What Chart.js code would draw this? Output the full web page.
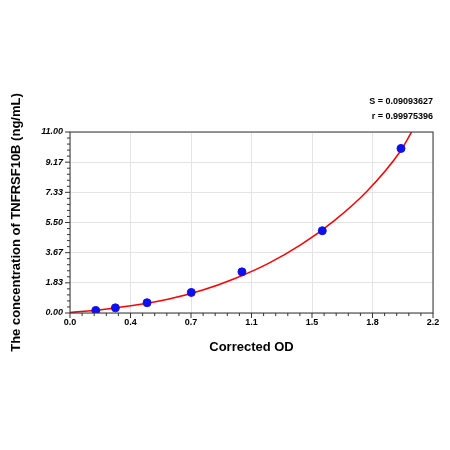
<!DOCTYPE html>
<html>
<head>
<script src="https://cdn.jsdelivr.net/npm/chart.js@4"></script>
<style>body{margin:0;background:#fff}#wrap{width:450px;height:450px}</style>
</head>
<body>
<div id="wrap"><canvas id="c" width="450" height="450"></canvas></div>
<script>
"use strict";
var xTicks = [0.0, 0.4, 0.7, 1.1, 1.5, 1.8, 2.2];
var yTicks = ["0.00", "1.83", "3.67", "5.50", "7.33", "9.17", "11.00"];
var odValues = [0.156, 0.275, 0.467, 0.735, 1.042, 1.529, 2.006];
var concValues = [0.156, 0.312, 0.625, 1.25, 2.5, 5, 10];
var curveX = [0, 0.2, 0.4, 0.6, 0.8, 1.0, 1.2, 1.4, 1.6, 1.8, 2.0, 2.07];
var curveY = [0.03, 0.22, 0.48, 0.85, 1.38, 2.1, 3.0, 4.15, 5.6, 7.4, 9.8, 11];
var XMAX = 2.2, YMAX = 11;

function pts(xs, ys){
    var out = [];
    for (var i = 0; i < xs.length; i++) out.push({x: xs[i], y: ys[i]});
    return out;
}

var extras = {
    id: 'extras',
    afterDraw: function(chart){
        var ctx = chart.ctx, a = chart.chartArea;
        var xs = chart.scales.x, ys = chart.scales.y;
        ctx.save();
        ctx.strokeStyle = '#333';
        ctx.lineWidth = 1;
        ctx.strokeRect(a.left, a.top, a.right - a.left, a.bottom - a.top);
        // minor ticks
        ctx.beginPath();
        for (var i = 0; i <= 30; i++) {
            var px = xs.getPixelForValue(XMAX * i / 30);
            var len = (i % 5 === 0) ? 5 : 3;
            ctx.moveTo(px, a.bottom); ctx.lineTo(px, a.bottom + len);
            var py = ys.getPixelForValue(YMAX * i / 30);
            ctx.moveTo(a.left, py); ctx.lineTo(a.left - len, py);
        }
        ctx.stroke();
        ctx.fillStyle = '#000';
        ctx.font = 'bold 9px "Liberation Sans", Arial';
        ctx.textAlign = 'right';
        ctx.fillText('S = 0.09093627', a.right, 104);
        ctx.fillText('r = 0.99975396', a.right, 119);
        ctx.font = 'bold 13px "Liberation Sans", Arial';
        ctx.textAlign = 'center';
        ctx.fillText('Corrected OD', (a.left + a.right) / 2, 351);
        ctx.translate(20, (a.top + a.bottom) / 2);
        ctx.rotate(-Math.PI / 2);
        ctx.fillText('The concentration of TNFRSF10B (ng/mL)', 0, 0);
        ctx.restore();
    }
};

new Chart(document.getElementById('c'), {
    type: 'scatter',
    data: {
        datasets: [{
            type: 'line',
            data: pts(curveX, curveY),
            borderColor: '#ff0000',
            borderWidth: 1.5,
            pointRadius: 0,
            tension: 0.4,
            cubicInterpolationMode: 'monotone',
            order: 2
        }, {
            data: pts(odValues, concValues),
            backgroundColor: '#1010ee',
            borderColor: '#1010ee',
            pointRadius: 4,
            order: 1
        }]
    },
    options: {
        responsive: false,
        animation: false,
        clip: {left: 0, top: 0, right: 0, bottom: 0},
        layout: {padding: {left: 20, right: 17, top: 132, bottom: 97}},
        plugins: {legend: {display: false}, tooltip: {enabled: false}},
        scales: {
            x: {
                type: 'linear', min: 0, max: XMAX,
                afterBuildTicks: function(s){ s.ticks = xTicks.map(function(v, i){ return {value: XMAX * i / 6}; }); },
                afterFit: function(s){ s.height = 40; },
                ticks: {
                    callback: function(v, i){ return xTicks[i].toFixed(1); },
                    font: {family: '"Liberation Sans", Arial', size: 9, weight: 'bold'},
                    color: '#000', maxRotation: 0, padding: 4
                },
                grid: {color: '#e4e4e4', drawTicks: false}, border: {display: false}
            },
            y: {
                type: 'linear', min: 0, max: YMAX,
                afterBuildTicks: function(s){ s.ticks = yTicks.map(function(v, i){ return {value: YMAX * i / 6}; }); },
                afterFit: function(s){ s.width = 50; },
                ticks: {
                    callback: function(v, i){ return yTicks[i]; },
                    font: {family: '"Liberation Sans", Arial', size: 9, weight: 'bold', style: 'italic'},
                    color: '#000', padding: 7
                },
                grid: {color: '#e4e4e4', drawTicks: false}, border: {display: false}
            }
        }
    },
    plugins: [extras]
});
</script>
</body>
</html>
